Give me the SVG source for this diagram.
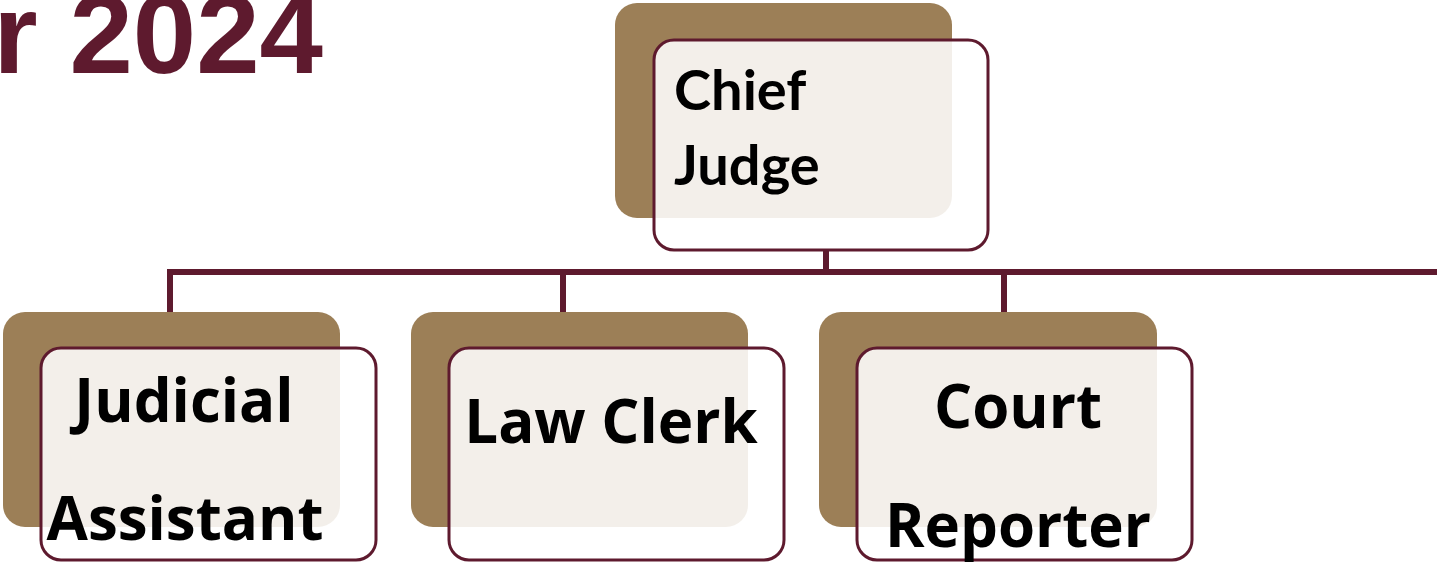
<svg xmlns="http://www.w3.org/2000/svg" width="1437" height="563" viewBox="0 0 1437 563">
<style>
.back{fill:#9C7F57}
.front{fill:#FFFFFF;fill-opacity:0.88;stroke:#5E1A2E;stroke-width:3}
.lbl{font-family:"Open Sans","Liberation Sans",sans-serif;font-weight:bold;fill:#000;font-size:60px;text-anchor:middle}
.cj{font-family:Lato,"Open Sans",sans-serif;font-weight:bold;fill:#000;font-size:56px}
.con{stroke:#5E1A2E;stroke-width:6;fill:none}
</style>
<rect width="1437" height="563" fill="#FFFFFF"/>
<text x="323" y="73" font-family="Liberation Sans, Arial, sans-serif" font-weight="bold" font-size="114" fill="#5E1A2E" text-anchor="end">r 2024</text>
<g id="connectors">
<line class="con" x1="826" y1="250" x2="826" y2="272"/>
<line class="con" x1="167" y1="272" x2="1437" y2="272"/>
<line class="con" x1="170" y1="272" x2="170" y2="313"/>
<line class="con" x1="563" y1="272" x2="563" y2="313"/>
<line class="con" x1="1004" y1="272" x2="1004" y2="313"/>
</g>
<g id="chief-judge">
<rect class="back" x="615" y="3" width="337" height="215" rx="22"/>
<rect class="front" x="654" y="40" width="334" height="210" rx="20"/>
<text class="cj" x="674" y="110">Chief</text>
<text class="cj" x="674" y="185">Judge</text>
</g>
<g id="judicial-assistant">
<rect class="back" x="3" y="312" width="337" height="215" rx="22"/>
<rect class="front" x="41" y="348" width="335" height="212" rx="20"/>
<text class="lbl" x="184" y="422">Judicial</text>
<text class="lbl" x="185" y="540">Assistant</text>
</g>
<g id="law-clerk">
<rect class="back" x="411" y="312" width="337" height="215" rx="22"/>
<rect class="front" x="449" y="348" width="335" height="212" rx="20"/>
<text class="lbl" x="611" y="443">Law Clerk</text>
</g>
<g id="court-reporter">
<rect class="back" x="819" y="312" width="338" height="215" rx="22"/>
<rect class="front" x="857" y="348" width="335" height="212" rx="20"/>
<text class="lbl" x="1018" y="428">Court</text>
<text class="lbl" x="1018" y="547">Reporter</text>
</g>
</svg>
